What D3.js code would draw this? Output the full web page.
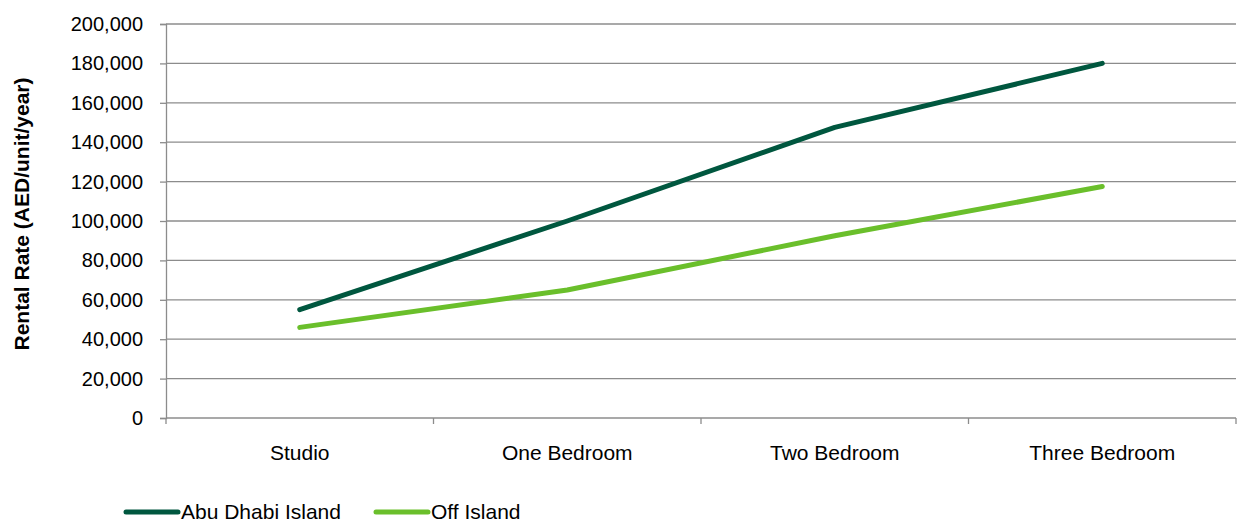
<!DOCTYPE html>
<html>
<head>
<meta charset="utf-8">
<script src="https://cdn.jsdelivr.net/npm/d3@7"></script>
<style>
  body { margin: 0; background: #fff; }
  svg text { font-family: "Liberation Sans", Arial, sans-serif; fill: #000; }
</style>
</head>
<body>
<div id="chart"></div>
<script>
// data
const categories = ["Studio", "One Bedroom", "Two Bedroom", "Three Bedroom"];
const abuDhabiIsland = [55000, 100000, 147500, 180000];
const offIsland = [46000, 65000, 92500, 117500];
const yTicks = [0, 20000, 40000, 60000, 80000, 100000, 120000, 140000, 160000, 180000, 200000];
const seriesNames = ["Abu Dhabi Island", "Off Island"];
const seriesColors = ["#00573f", "#6abf2b"];

const width = 1238, height = 520;
const plotLeft = 166, plotRight = 1236, plotTop = 24, plotBottom = 418;

const svg = d3.select("#chart").append("svg")
  .attr("width", width)
  .attr("height", height);

const x = d3.scaleBand().domain(categories).range([plotLeft, plotRight]);
const y = d3.scaleLinear().domain([0, 200000]).range([plotBottom, plotTop]);

// gridlines
svg.append("g")
  .selectAll("line")
  .data(yTicks)
  .join("line")
  .attr("x1", plotLeft)
  .attr("x2", plotRight)
  .attr("y1", d => y(d))
  .attr("y2", d => y(d))
  .attr("stroke", "#8c8c8c")
  .attr("stroke-width", 1.3);

// y axis
const yAxis = svg.append("g")
  .attr("transform", `translate(${plotLeft},0)`)
  .call(d3.axisLeft(y).tickValues(yTicks).tickSize(6).tickPadding(17)
    .tickFormat(d3.format(",")));
yAxis.select(".domain").attr("stroke", "#8c8c8c").attr("stroke-width", 1.3);
yAxis.selectAll(".tick line").attr("stroke", "#8c8c8c").attr("stroke-width", 1.3);
yAxis.selectAll("text").style("font-size", "20px");

// x axis
const xAxis = svg.append("g")
  .attr("transform", `translate(0,${plotBottom})`)
  .call(d3.axisBottom(x).tickSize(0).tickPadding(27));
xAxis.select(".domain").remove();
xAxis.selectAll("text").style("font-size", "21px");

// category boundary ticks
const bounds = categories.map(c => x(c)).concat([x(categories[categories.length - 1]) + x.bandwidth()]);
svg.append("g")
  .selectAll("line")
  .data(bounds)
  .join("line")
  .attr("x1", d => d).attr("x2", d => d)
  .attr("y1", plotBottom).attr("y2", plotBottom + 6)
  .attr("stroke", "#8c8c8c")
  .attr("stroke-width", 1.3);

// y title
svg.append("text")
  .attr("transform", `translate(29,214) rotate(-90)`)
  .attr("text-anchor", "middle")
  .style("font-size", "21px")
  .style("font-weight", "bold")
  .text("Rental Rate (AED/unit/year)");

// lines
const line = d3.line()
  .x((d, i) => x(categories[i]) + x.bandwidth() / 2)
  .y(d => y(d));

[abuDhabiIsland, offIsland].forEach((s, k) => {
  svg.append("path")
    .datum(s)
    .attr("fill", "none")
    .attr("stroke", seriesColors[k])
    .attr("stroke-width", 5)
    .attr("stroke-linecap", "round")
    .attr("stroke-linejoin", "round")
    .attr("d", line);
});

// legend
const legendX = [126, 376];
seriesNames.forEach((n, k) => {
  const g = svg.append("g").attr("transform", `translate(${legendX[k]},512)`);
  g.append("line")
    .attr("x1", 0).attr("x2", 52)
    .attr("stroke", seriesColors[k])
    .attr("stroke-width", 5)
    .attr("stroke-linecap", "round");
  g.append("text")
    .attr("x", 55)
    .attr("y", 7)
    .style("font-size", "21px")
    .text(n);
});
</script>
</body>
</html>
